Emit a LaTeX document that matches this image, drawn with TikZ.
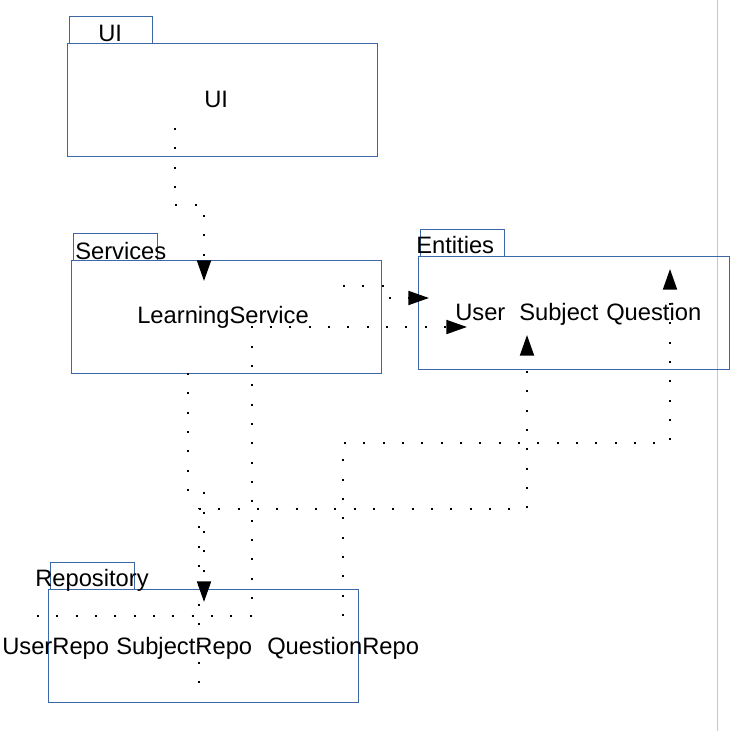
\documentclass[tikz,border=0pt]{standalone}
\usepackage{xcolor}
\usepackage{fontspec}
\setmainfont{Liberation Sans}
\usepackage{tikz}
\usetikzlibrary{arrows.meta}
\definecolor{pblue}{HTML}{3D68A8}
\definecolor{pedge}{HTML}{C8C8C8}
\newcommand{\umlfont}{\fontsize{17.8}{20}\selectfont}
\tikzset{
  >={Triangle[length=15.5pt, width=10.5pt]},
  ptab/.style={draw=pblue, line width=0.75pt},
  pbody/.style={draw=pblue, line width=0.75pt},
  plbl/.style={font=\umlfont, inner sep=0pt, anchor=base west},
  pdep/.style={->, black, line width=1.4pt, dash pattern=on 1.4pt off 13.1pt},
}

\begin{document}
\begin{tikzpicture}[x=0.75pt, y=-0.75pt]

  \useasboundingbox (0,0) rectangle (749,731);
  \draw[pedge, line width=0.75pt] (717,0) -- (717,731);

  % pacotes
  \draw[ptab]  (69,17)  rectangle (152,44);
  \draw[pbody] (67,44)  rectangle (377,157);
  \draw[ptab]  (73,233) rectangle (157,260);
  \draw[pbody] (71,260) rectangle (381,373);
  \draw[ptab]  (420,229) rectangle (504,256);
  \draw[pbody] (418,256) rectangle (729,369);
  \draw[ptab]  (50,562) rectangle (134,589);
  \draw[pbody] (48,589) rectangle (358,702);

  % nomes dos pacotes
  \node[plbl] (uiTabLbl)   at (98,42)  {UI};
  \node[plbl] (svcTabLbl)  at (75,259) {Services};
  \node[plbl] (entTabLbl)  at (416,253) {Entities};
  \node[plbl] (repoTabLbl) at (35,586) {Repository};

  % classes
  \node[plbl] (ui)           at (204,108) {UI};
  \node[plbl] (learning)     at (137,323) {LearningService};
  \node[plbl] (user)         at (455,320) {User};
  \node[plbl] (subject)      at (519,320) {Subject};
  \node[plbl] (question)     at (606,320) {Question};
  \node[plbl] (userRepo)     at (2,654)   {UserRepo};
  \node[plbl] (subjectRepo)  at (116,654) {SubjectRepo};
  \node[plbl] (questionRepo) at (267,654) {QuestionRepo};

  % pontas das dependencias
  \coordinate (uiOut)   at (175,128);
  \coordinate (svcIn)   at (204,281);
  \coordinate (lsOut)   at (343,286);
  \coordinate (entIn)   at (429,298);
  \coordinate (urOut)   at (37,616);
  \coordinate (userIn)  at (467,327);
  \coordinate (svcOut)  at (188,373);
  \coordinate (repoIn)  at (204,602);
  \coordinate (srOut)   at (199,683);
  \coordinate (subjIn)  at (527,335);
  \coordinate (qrOut)   at (343,616);
  \coordinate (quesIn)  at (670,269);

  % dependencias
  \draw[pdep] (uiOut) -- ++(0,77) -| (svcIn);
  \draw[pdep] (lsOut) -- ++(47,0) |- (entIn);
  \draw[pdep] (urOut) -- ++(215,0) |- (userIn);
  \draw[pdep] (svcOut) -- ++(0,117) -| (repoIn);
  \draw[pdep] (srOut) -- ++(0,-174) -| (subjIn);
  \draw[pdep] (qrOut) -- ++(0,-173) -| (quesIn);

\end{tikzpicture}
\end{document}
